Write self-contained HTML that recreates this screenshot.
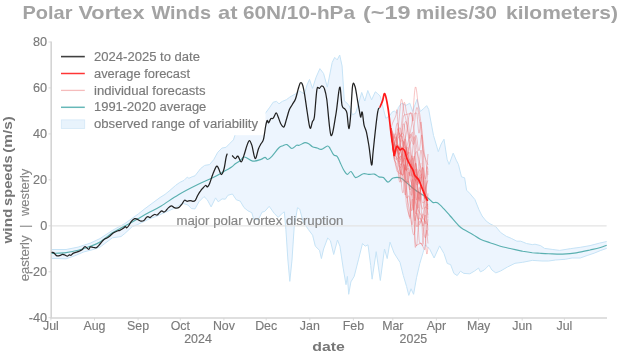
<!DOCTYPE html>
<html><head><meta charset="utf-8"><style>
html,body{margin:0;padding:0;background:#fff;width:620px;height:364px;overflow:hidden}
svg text{font-family:"Liberation Sans",sans-serif}
</style></head><body>
<svg width="620" height="364" viewBox="0 0 620 364" style="position:absolute;left:0;top:0;will-change:transform"><polygon points="51.0,249.5 66.0,249.5 78.2,247.1 90.3,243.1 100.0,238.6 112.4,230.4 124.8,223.6 138.2,214.0 145.0,208.6 160.0,197.5 165.0,194.4 170.0,190.3 175.7,185.3 179.8,182.4 184.0,180.4 187.3,177.1 188.9,178.3 192.2,176.7 195.0,175.8 200.5,168.7 204.6,165.4 209.5,164.6 213.7,159.7 217.8,152.2 221.9,148.1 226.0,147.3 230.1,143.2 233.4,139.9 235.1,134.9 240.0,128.0 250.0,122.0 263.0,116.5 265.0,113.7 269.9,107.1 273.2,102.2 276.5,101.4 279.0,103.8 282.3,101.4 286.4,99.7 289.7,97.2 293.8,94.8 297.1,93.1 299.6,91.0 302.0,92.5 304.5,94.0 307.0,85.0 309.5,79.4 312.5,88.4 316.1,77.2 319.9,68.6 323.6,73.5 327.3,87.1 332.2,62.4 334.7,57.4 337.2,59.9 339.7,55.0 342.1,66.0 344.3,101.0 346.8,102.9 349.3,106.0 352.4,114.7 355.5,113.4 358.6,103.5 361.7,92.4 364.8,101.0 367.8,90.5 371.6,99.8 375.3,91.8 377.7,93.6 380.2,96.1 385.8,118.4 389.5,115.9 392.0,112.2 394.5,110.9 396.9,113.4 398.3,107.6 401.6,103.2 406.0,105.4 409.8,103.2 412.6,111.4 417.0,99.3 420.3,111.4 423.6,108.7 426.7,105.6 428.7,109.4 430.6,120.0 433.5,135.4 438.3,151.7 441.2,144.0 444.0,139.2 447.1,159.3 449.1,164.4 453.2,153.1 456.3,160.3 458.4,164.4 461.5,176.8 464.6,177.8 466.6,190.2 469.7,193.3 474.9,199.5 479.0,209.8 482.1,216.0 486.2,221.1 490.0,223.8 495.8,226.7 500.6,232.5 506.3,236.3 511.2,238.3 516.9,241.2 520.8,241.2 526.5,243.5 532.3,244.6 535.0,244.2 540.5,245.6 544.6,248.4 552.9,249.5 559.7,250.4 570.7,248.6 580.3,247.3 590.0,245.6 599.6,243.1 606.7,241.5 606.7,248.4 600.9,250.4 594.1,253.2 587.2,255.5 580.3,258.0 572.1,258.0 565.2,259.3 555.6,260.0 548.7,261.0 541.9,261.0 532.3,260.4 522.7,262.3 515.0,263.3 507.3,267.1 500.6,271.0 495.8,272.9 491.9,270.0 489.0,265.2 484.2,270.0 480.4,271.9 478.5,268.1 474.6,271.0 469.8,273.8 463.8,273.4 460.5,271.2 457.2,275.6 453.9,273.4 450.6,264.6 447.3,263.5 444.0,253.6 439.6,245.9 434.1,258.0 429.7,249.2 425.3,244.8 423.1,252.5 419.8,263.5 416.5,277.8 413.6,294.3 411.0,288.8 408.8,295.4 406.6,286.6 403.3,275.6 400.0,262.4 394.1,253.1 390.0,242.1 387.2,258.6 384.5,249.0 380.3,280.5 376.2,251.7 372.1,279.2 370.7,265.4 368.0,244.8 365.2,246.2 362.5,243.5 358.4,259.9 354.2,276.4 350.9,281.9 348.7,294.3 347.4,276.4 346.0,284.7 343.2,268.2 339.9,246.2 337.5,240.0 333.7,254.5 330.4,240.7 327.7,238.0 323.6,249.0 321.4,258.6 319.5,250.3 315.3,246.2 312.6,235.2 308.5,229.7 303.0,221.5 299.7,209.1 297.5,207.7 294.2,227.0 292.0,260.0 289.8,281.4 287.9,260.0 285.9,229.7 284.3,211.9 282.4,213.2 278.2,217.4 274.1,213.2 269.2,206.3 264.7,211.5 262.1,212.1 258.2,219.8 253.7,219.2 251.8,212.7 247.9,210.8 244.0,207.6 240.2,201.1 236.3,199.8 232.4,194.0 227.9,195.3 225.3,199.2 222.1,198.9 218.2,201.8 215.6,197.9 211.1,206.9 207.3,199.8 204.0,196.6 198.9,201.8 195.0,208.9 191.4,208.6 187.9,205.0 182.5,203.2 173.6,208.6 155.7,216.6 150.0,218.6 137.1,224.8 132.2,226.7 124.8,233.5 121.0,236.6 112.4,237.8 100.0,247.1 91.9,249.9 83.9,251.9 74.2,256.0 66.1,258.8 51.0,258.4" fill="#edf5fe" stroke="none"/><polyline points="51.0,249.5 66.0,249.5 78.2,247.1 90.3,243.1 100.0,238.6 112.4,230.4 124.8,223.6 138.2,214.0 145.0,208.6 160.0,197.5 165.0,194.4 170.0,190.3 175.7,185.3 179.8,182.4 184.0,180.4 187.3,177.1 188.9,178.3 192.2,176.7 195.0,175.8 200.5,168.7 204.6,165.4 209.5,164.6 213.7,159.7 217.8,152.2 221.9,148.1 226.0,147.3 230.1,143.2 233.4,139.9 235.1,134.9 240.0,128.0 250.0,122.0 263.0,116.5 265.0,113.7 269.9,107.1 273.2,102.2 276.5,101.4 279.0,103.8 282.3,101.4 286.4,99.7 289.7,97.2 293.8,94.8 297.1,93.1 299.6,91.0 302.0,92.5 304.5,94.0 307.0,85.0 309.5,79.4 312.5,88.4 316.1,77.2 319.9,68.6 323.6,73.5 327.3,87.1 332.2,62.4 334.7,57.4 337.2,59.9 339.7,55.0 342.1,66.0 344.3,101.0 346.8,102.9 349.3,106.0 352.4,114.7 355.5,113.4 358.6,103.5 361.7,92.4 364.8,101.0 367.8,90.5 371.6,99.8 375.3,91.8 377.7,93.6 380.2,96.1 385.8,118.4 389.5,115.9 392.0,112.2 394.5,110.9 396.9,113.4 398.3,107.6 401.6,103.2 406.0,105.4 409.8,103.2 412.6,111.4 417.0,99.3 420.3,111.4 423.6,108.7 426.7,105.6 428.7,109.4 430.6,120.0 433.5,135.4 438.3,151.7 441.2,144.0 444.0,139.2 447.1,159.3 449.1,164.4 453.2,153.1 456.3,160.3 458.4,164.4 461.5,176.8 464.6,177.8 466.6,190.2 469.7,193.3 474.9,199.5 479.0,209.8 482.1,216.0 486.2,221.1 490.0,223.8 495.8,226.7 500.6,232.5 506.3,236.3 511.2,238.3 516.9,241.2 520.8,241.2 526.5,243.5 532.3,244.6 535.0,244.2 540.5,245.6 544.6,248.4 552.9,249.5 559.7,250.4 570.7,248.6 580.3,247.3 590.0,245.6 599.6,243.1 606.7,241.5" fill="none" stroke="#c6e3f6" stroke-width="1"/><polyline points="51.0,258.4 66.1,258.8 74.2,256.0 83.9,251.9 91.9,249.9 100.0,247.1 112.4,237.8 121.0,236.6 124.8,233.5 132.2,226.7 137.1,224.8 150.0,218.6 155.7,216.6 173.6,208.6 182.5,203.2 187.9,205.0 191.4,208.6 195.0,208.9 198.9,201.8 204.0,196.6 207.3,199.8 211.1,206.9 215.6,197.9 218.2,201.8 222.1,198.9 225.3,199.2 227.9,195.3 232.4,194.0 236.3,199.8 240.2,201.1 244.0,207.6 247.9,210.8 251.8,212.7 253.7,219.2 258.2,219.8 262.1,212.1 264.7,211.5 269.2,206.3 274.1,213.2 278.2,217.4 282.4,213.2 284.3,211.9 285.9,229.7 287.9,260.0 289.8,281.4 292.0,260.0 294.2,227.0 297.5,207.7 299.7,209.1 303.0,221.5 308.5,229.7 312.6,235.2 315.3,246.2 319.5,250.3 321.4,258.6 323.6,249.0 327.7,238.0 330.4,240.7 333.7,254.5 337.5,240.0 339.9,246.2 343.2,268.2 346.0,284.7 347.4,276.4 348.7,294.3 350.9,281.9 354.2,276.4 358.4,259.9 362.5,243.5 365.2,246.2 368.0,244.8 370.7,265.4 372.1,279.2 376.2,251.7 380.3,280.5 384.5,249.0 387.2,258.6 390.0,242.1 394.1,253.1 400.0,262.4 403.3,275.6 406.6,286.6 408.8,295.4 411.0,288.8 413.6,294.3 416.5,277.8 419.8,263.5 423.1,252.5 425.3,244.8 429.7,249.2 434.1,258.0 439.6,245.9 444.0,253.6 447.3,263.5 450.6,264.6 453.9,273.4 457.2,275.6 460.5,271.2 463.8,273.4 469.8,273.8 474.6,271.0 478.5,268.1 480.4,271.9 484.2,270.0 489.0,265.2 491.9,270.0 495.8,272.9 500.6,271.0 507.3,267.1 515.0,263.3 522.7,262.3 532.3,260.4 541.9,261.0 548.7,261.0 555.6,260.0 565.2,259.3 572.1,258.0 580.3,258.0 587.2,255.5 594.1,253.2 600.9,250.4 606.7,248.4" fill="none" stroke="#c6e3f6" stroke-width="1"/><rect x="55" y="40" width="210.5" height="95.2" fill="#fff"/><line x1="51" y1="225.8" x2="606.6" y2="225.8" stroke="#e3e3e3" stroke-width="1.3"/><line x1="51.2" y1="41.5" x2="51.2" y2="318" stroke="#d4d4d4" stroke-width="1.6"/><line x1="50.4" y1="318" x2="607" y2="318" stroke="#d4d4d4" stroke-width="1.6"/><line x1="48.5" y1="42.0" x2="51" y2="42.0" stroke="#d4d4d4" stroke-width="0.8"/><line x1="48.5" y1="87.9" x2="51" y2="87.9" stroke="#d4d4d4" stroke-width="0.8"/><line x1="48.5" y1="133.9" x2="51" y2="133.9" stroke="#d4d4d4" stroke-width="0.8"/><line x1="48.5" y1="179.8" x2="51" y2="179.8" stroke="#d4d4d4" stroke-width="0.8"/><line x1="48.5" y1="225.8" x2="51" y2="225.8" stroke="#d4d4d4" stroke-width="0.8"/><line x1="48.5" y1="271.8" x2="51" y2="271.8" stroke="#d4d4d4" stroke-width="0.8"/><line x1="48.5" y1="317.7" x2="51" y2="317.7" stroke="#d4d4d4" stroke-width="0.8"/><line x1="50.9" y1="318" x2="50.9" y2="320.5" stroke="#d4d4d4" stroke-width="0.8"/><line x1="94.5" y1="318" x2="94.5" y2="320.5" stroke="#d4d4d4" stroke-width="0.8"/><line x1="138.1" y1="318" x2="138.1" y2="320.5" stroke="#d4d4d4" stroke-width="0.8"/><line x1="180.3" y1="318" x2="180.3" y2="320.5" stroke="#d4d4d4" stroke-width="0.8"/><line x1="223.9" y1="318" x2="223.9" y2="320.5" stroke="#d4d4d4" stroke-width="0.8"/><line x1="266.2" y1="318" x2="266.2" y2="320.5" stroke="#d4d4d4" stroke-width="0.8"/><line x1="309.8" y1="318" x2="309.8" y2="320.5" stroke="#d4d4d4" stroke-width="0.8"/><line x1="353.4" y1="318" x2="353.4" y2="320.5" stroke="#d4d4d4" stroke-width="0.8"/><line x1="392.8" y1="318" x2="392.8" y2="320.5" stroke="#d4d4d4" stroke-width="0.8"/><line x1="436.4" y1="318" x2="436.4" y2="320.5" stroke="#d4d4d4" stroke-width="0.8"/><line x1="478.6" y1="318" x2="478.6" y2="320.5" stroke="#d4d4d4" stroke-width="0.8"/><line x1="522.2" y1="318" x2="522.2" y2="320.5" stroke="#d4d4d4" stroke-width="0.8"/><line x1="564.4" y1="318" x2="564.4" y2="320.5" stroke="#d4d4d4" stroke-width="0.8"/><text x="176.4" y="224.7" font-size="12.3" fill="#858585" stroke="#858585" stroke-width="0.15" textLength="167" lengthAdjust="spacingAndGlyphs">major polar vortex disruption</text><path d="M51.6,253.5 C54.0,253.3 61.7,253.1 66.1,252.6 C70.5,252.1 74.2,251.4 78.2,250.3 C82.2,249.2 86.7,247.7 90.3,246.3 C93.9,244.9 96.3,244.2 100.0,241.9 C103.7,239.7 108.3,235.5 112.4,232.8 C116.5,230.2 120.7,228.3 124.8,226.0 C128.9,223.7 133.2,221.4 137.1,219.2 C141.0,217.0 144.0,215.2 148.0,213.0 C152.0,210.8 156.1,209.0 161.2,205.9 C166.3,202.8 172.4,198.3 178.5,194.7 C184.6,191.1 191.9,187.4 197.8,184.5 C203.7,181.6 209.4,179.4 213.7,177.3 C218.0,175.2 220.4,173.5 223.4,171.8 C226.4,170.1 229.6,168.4 231.6,167.0 C233.6,165.6 234.3,164.5 235.7,163.5 C237.1,162.5 238.5,161.9 240.0,160.8 C241.5,159.7 242.4,156.9 244.5,157.0 C246.6,157.1 249.9,160.7 252.7,161.1 C255.4,161.5 258.9,160.0 261.0,159.4 C263.1,158.8 263.9,157.3 265.0,157.3 C266.1,157.3 266.6,159.7 267.7,159.5 C268.8,159.3 270.1,158.2 271.9,156.3 C273.7,154.4 276.9,149.8 278.7,148.0 C280.5,146.2 281.5,146.3 282.9,145.7 C284.3,145.1 285.5,144.1 287.0,144.6 C288.5,145.1 290.2,148.4 291.8,148.5 C293.4,148.6 295.4,145.8 296.6,145.3 C297.9,144.8 297.9,145.8 299.3,145.3 C300.7,144.9 303.2,142.8 304.8,142.6 C306.4,142.4 307.7,143.2 309.0,143.9 C310.3,144.6 311.0,146.0 312.4,146.7 C313.8,147.4 315.7,147.6 317.2,148.0 C318.7,148.4 319.6,149.7 321.3,149.4 C323.0,149.1 326.0,146.1 327.5,146.0 C329.0,145.9 329.2,147.2 330.2,148.7 C331.2,150.2 332.5,153.6 333.7,154.9 C334.9,156.2 336.0,155.0 337.1,156.3 C338.2,157.6 339.1,160.3 340.2,162.7 C341.3,165.1 342.8,168.6 344.0,170.5 C345.2,172.4 346.1,174.2 347.3,174.4 C348.5,174.6 349.7,171.0 351.1,171.5 C352.5,172.0 353.6,177.2 355.6,177.6 C357.7,178.0 361.2,174.2 363.4,173.7 C365.5,173.2 366.7,174.3 368.5,174.4 C370.3,174.5 372.7,173.7 374.4,174.1 C376.1,174.5 377.4,176.3 378.9,176.9 C380.4,177.5 381.9,176.7 383.4,177.6 C384.9,178.5 386.3,182.0 387.9,182.1 C389.5,182.2 391.0,178.7 393.1,178.0 C395.2,177.3 398.4,177.1 400.8,178.0 C403.2,178.9 404.9,181.4 407.3,183.4 C409.7,185.4 412.9,188.2 415.0,189.8 C417.1,191.5 417.9,192.0 420.0,193.3 C422.1,194.6 425.5,196.3 427.6,197.8 C429.7,199.3 431.2,201.6 432.8,202.4 C434.4,203.2 435.5,201.7 437.4,202.8 C439.3,203.9 442.1,207.0 444.2,209.2 C446.3,211.4 447.8,213.3 450.2,216.0 C452.6,218.7 456.2,223.2 458.5,225.5 C460.8,227.8 461.4,228.1 463.8,229.6 C466.2,231.1 469.9,232.8 472.7,234.4 C475.5,236.0 477.5,237.8 480.4,239.2 C483.3,240.6 486.8,241.6 490.0,242.7 C493.2,243.8 496.1,245.0 499.6,246.0 C503.1,247.0 507.3,247.9 511.2,248.8 C515.0,249.7 519.2,250.5 522.7,251.2 C526.2,251.8 529.4,252.3 532.3,252.7 C535.2,253.0 537.3,253.1 540.0,253.3 C542.7,253.5 545.0,253.7 548.7,253.8 C552.5,253.9 557.9,254.2 562.5,254.1 C567.1,253.9 571.6,253.6 576.2,252.9 C580.8,252.2 586.1,250.9 590.0,250.0 C593.9,249.1 596.8,248.5 599.6,247.7 C602.4,246.9 605.5,245.7 606.7,245.3" fill="none" stroke="#5ab0b0" stroke-width="1.15" stroke-linejoin="round"/><path d="M391.0,128.0 C391.2,129.7 391.7,134.7 392.0,138.0 C392.3,141.3 392.7,144.7 393.0,147.7 C393.3,150.7 393.7,154.0 394.0,156.0 C394.3,158.1 394.7,158.6 395.0,160.1 C395.3,161.6 395.7,163.7 396.0,165.1 C396.3,166.5 396.7,167.5 397.0,168.3 C397.3,169.1 397.7,169.3 398.0,170.0 C398.3,170.8 398.7,172.2 399.0,172.8 C399.3,173.4 399.7,174.5 400.0,173.7 C400.3,173.0 400.7,171.2 401.0,168.4 C401.3,165.5 401.7,160.0 402.0,156.7 C402.3,153.3 402.7,149.3 403.0,148.2 C403.3,147.0 403.7,147.9 404.0,149.9 C404.3,151.9 404.7,157.1 405.0,160.3 C405.3,163.6 405.7,167.8 406.0,169.4 C406.3,171.1 406.7,170.7 407.0,170.4 C407.3,170.1 407.7,167.9 408.0,167.8 C408.3,167.7 408.7,168.4 409.0,169.9 C409.3,171.4 409.7,174.9 410.0,176.9 C410.3,178.9 410.7,180.9 411.0,182.0 C411.3,183.0 411.7,182.1 412.0,183.4 C412.3,184.7 412.7,185.5 413.0,190.0 C413.3,194.5 413.7,202.5 414.0,210.5 C414.3,218.5 414.7,232.2 415.0,238.0 C415.3,243.9 415.7,244.6 416.0,245.5 C416.3,246.4 416.7,246.1 417.0,243.4 C417.3,240.8 417.7,233.3 418.0,229.7 C418.3,226.2 418.7,223.3 419.0,222.1 C419.3,220.8 419.7,222.4 420.0,222.3 C420.3,222.1 420.7,222.3 421.0,221.4 C421.3,220.6 421.7,218.4 422.0,217.2 C422.3,215.9 422.7,213.7 423.0,213.7 C423.3,213.6 423.7,215.3 424.0,217.0 C424.3,218.6 424.7,222.4 425.0,223.3 C425.3,224.2 425.7,224.4 426.0,222.2 C426.3,220.0 426.7,215.0 427.0,210.2 C427.3,205.4 427.8,196.2 428.0,193.4" fill="none" stroke="#ec5a5a" stroke-opacity="0.42" stroke-width="0.85"/><path d="M391.0,128.0 C391.2,129.7 391.7,134.7 392.0,138.0 C392.3,141.3 392.7,145.5 393.0,147.6 C393.3,149.6 393.7,151.5 394.0,150.2 C394.3,148.9 394.7,142.0 395.0,139.8 C395.3,137.5 395.7,136.3 396.0,136.7 C396.3,137.0 396.7,139.2 397.0,141.7 C397.3,144.2 397.7,148.3 398.0,151.4 C398.3,154.5 398.7,158.4 399.0,160.1 C399.3,161.9 399.7,162.4 400.0,162.0 C400.3,161.6 400.7,159.0 401.0,157.7 C401.3,156.3 401.7,153.8 402.0,153.9 C402.3,153.9 402.7,155.2 403.0,157.8 C403.3,160.5 403.7,165.3 404.0,169.8 C404.3,174.3 404.7,180.5 405.0,184.8 C405.3,189.0 405.7,193.1 406.0,195.3 C406.3,197.5 406.7,198.0 407.0,198.1 C407.3,198.3 407.7,196.7 408.0,196.4 C408.3,196.1 408.7,195.3 409.0,196.2 C409.3,197.0 409.7,199.4 410.0,201.5 C410.3,203.6 410.7,207.3 411.0,208.7 C411.3,210.2 411.7,211.6 412.0,210.2 C412.3,208.9 412.7,205.1 413.0,200.4 C413.3,195.7 413.7,187.7 414.0,182.2 C414.3,176.6 414.7,170.1 415.0,167.0 C415.3,164.0 415.7,162.5 416.0,163.8 C416.3,165.1 416.7,170.2 417.0,175.0 C417.3,179.7 417.7,187.8 418.0,192.1 C418.3,196.5 418.7,200.5 419.0,201.2 C419.3,202.0 419.7,199.7 420.0,196.5 C420.3,193.4 420.7,186.9 421.0,182.2 C421.3,177.5 421.7,170.0 422.0,168.3 C422.3,166.5 422.7,167.0 423.0,171.6 C423.3,176.2 423.7,187.3 424.0,196.1 C424.3,204.9 424.7,215.9 425.0,224.4 C425.3,232.9 425.7,242.2 426.0,247.2 C426.3,252.2 426.7,254.2 427.0,254.1 C427.3,254.1 427.8,248.3 428.0,247.1" fill="none" stroke="#ec5a5a" stroke-opacity="0.42" stroke-width="0.85"/><path d="M391.0,128.0 C391.2,129.7 391.7,134.7 392.0,138.0 C392.3,141.3 392.7,144.8 393.0,147.6 C393.3,150.5 393.7,154.0 394.0,155.0 C394.3,156.0 394.7,155.0 395.0,153.6 C395.3,152.2 395.7,148.9 396.0,146.7 C396.3,144.5 396.7,142.1 397.0,140.6 C397.3,139.2 397.7,138.5 398.0,137.9 C398.3,137.2 398.7,137.1 399.0,136.8 C399.3,136.5 399.7,136.5 400.0,136.1 C400.3,135.7 400.7,134.8 401.0,134.3 C401.3,133.9 401.7,133.3 402.0,133.2 C402.3,133.1 402.7,133.2 403.0,133.7 C403.3,134.2 403.7,135.0 404.0,136.4 C404.3,137.8 404.7,139.5 405.0,141.9 C405.3,144.2 405.7,147.5 406.0,150.5 C406.3,153.4 406.7,157.0 407.0,159.4 C407.3,161.8 407.7,163.8 408.0,165.0 C408.3,166.2 408.7,166.5 409.0,166.5 C409.3,166.5 409.7,165.5 410.0,165.0 C410.3,164.6 410.7,163.6 411.0,163.7 C411.3,163.9 411.7,164.2 412.0,166.0 C412.3,167.9 412.7,170.7 413.0,174.9 C413.3,179.1 413.7,185.4 414.0,191.4 C414.3,197.3 414.7,205.4 415.0,210.6 C415.3,215.8 415.7,220.1 416.0,222.8 C416.3,225.5 416.7,226.9 417.0,226.9 C417.3,226.9 417.7,225.1 418.0,222.8 C418.3,220.5 418.7,216.5 419.0,213.3 C419.3,210.0 419.7,206.3 420.0,203.4 C420.3,200.6 420.7,198.0 421.0,196.3 C421.3,194.6 421.7,193.8 422.0,193.2 C422.3,192.6 422.7,192.8 423.0,192.6 C423.3,192.5 423.7,192.8 424.0,192.4 C424.3,192.0 424.7,191.2 425.0,190.3 C425.3,189.3 425.7,187.8 426.0,186.6 C426.3,185.4 426.7,183.9 427.0,182.9 C427.3,181.9 427.8,181.0 428.0,180.6" fill="none" stroke="#ec5a5a" stroke-opacity="0.42" stroke-width="0.85"/><path d="M391.0,128.0 C391.2,129.6 391.7,134.4 392.0,137.7 C392.3,141.0 392.7,144.9 393.0,148.0 C393.3,151.0 393.7,155.0 394.0,156.0 C394.3,157.0 394.7,155.5 395.0,153.9 C395.3,152.3 395.7,147.9 396.0,146.3 C396.3,144.7 396.7,143.7 397.0,144.5 C397.3,145.3 397.7,148.1 398.0,151.2 C398.3,154.2 398.7,159.3 399.0,162.8 C399.3,166.3 399.7,170.1 400.0,172.1 C400.3,174.0 400.7,174.8 401.0,174.6 C401.3,174.3 401.7,172.0 402.0,170.4 C402.3,168.8 402.7,165.8 403.0,165.0 C403.3,164.2 403.7,163.7 404.0,165.9 C404.3,168.0 404.7,172.5 405.0,178.2 C405.3,183.8 405.7,194.7 406.0,199.6 C406.3,204.4 406.7,205.5 407.0,207.4 C407.3,209.3 407.7,209.9 408.0,211.2 C408.3,212.5 408.7,214.3 409.0,215.0 C409.3,215.7 409.7,218.5 410.0,215.3 C410.3,212.0 410.7,201.3 411.0,195.6 C411.3,190.0 411.7,184.1 412.0,181.6 C412.3,179.2 412.7,178.9 413.0,180.8 C413.3,182.7 413.7,188.2 414.0,192.9 C414.3,197.5 414.7,205.1 415.0,208.6 C415.3,212.1 415.7,214.0 416.0,214.0 C416.3,214.0 416.7,211.4 417.0,208.5 C417.3,205.6 417.7,200.2 418.0,196.8 C418.3,193.3 418.7,188.9 419.0,187.9 C419.3,186.8 419.7,187.7 420.0,190.3 C420.3,193.0 420.7,198.2 421.0,203.8 C421.3,209.5 421.7,217.6 422.0,224.3 C422.3,231.0 422.8,240.7 423.0,243.9" fill="none" stroke="#ec5a5a" stroke-opacity="0.42" stroke-width="0.85"/><path d="M391.0,128.0 C391.2,129.7 391.7,135.3 392.0,138.0 C392.3,140.7 392.7,141.9 393.0,144.5 C393.3,147.1 393.7,151.9 394.0,153.5 C394.3,155.0 394.7,154.0 395.0,153.7 C395.3,153.4 395.7,152.6 396.0,151.9 C396.3,151.2 396.7,150.1 397.0,149.7 C397.3,149.2 397.7,148.7 398.0,149.3 C398.3,150.0 398.7,151.6 399.0,153.8 C399.3,156.0 399.7,159.6 400.0,162.5 C400.3,165.4 400.7,168.9 401.0,171.1 C401.3,173.2 401.7,174.9 402.0,175.3 C402.3,175.7 402.7,174.4 403.0,173.4 C403.3,172.3 403.7,170.0 404.0,169.0 C404.3,168.0 404.7,167.4 405.0,167.5 C405.3,167.7 405.7,169.4 406.0,169.7 C406.3,170.0 406.7,170.8 407.0,169.3 C407.3,167.9 407.7,164.6 408.0,161.1 C408.3,157.5 408.7,152.2 409.0,148.3 C409.3,144.3 409.7,139.6 410.0,137.2 C410.3,134.9 410.7,134.0 411.0,134.2 C411.3,134.5 411.7,137.1 412.0,138.7 C412.3,140.3 412.7,143.0 413.0,143.8 C413.3,144.7 413.7,144.6 414.0,143.7 C414.3,142.8 414.7,139.9 415.0,138.5 C415.3,137.1 415.7,135.1 416.0,135.3 C416.3,135.4 416.7,137.2 417.0,139.2 C417.3,141.2 417.7,145.2 418.0,147.1 C418.3,149.1 418.7,151.0 419.0,150.8 C419.3,150.7 419.7,148.6 420.0,146.4 C420.3,144.2 420.7,139.5 421.0,137.7 C421.3,135.9 421.7,134.1 422.0,135.5 C422.3,136.8 422.7,141.0 423.0,146.0 C423.3,151.0 423.7,159.2 424.0,165.4 C424.3,171.7 424.7,178.7 425.0,183.5 C425.3,188.3 425.7,191.4 426.0,194.3 C426.3,197.2 426.7,198.5 427.0,201.0 C427.3,203.5 427.8,208.0 428.0,209.4" fill="none" stroke="#ec5a5a" stroke-opacity="0.42" stroke-width="0.85"/><path d="M391.0,128.0 C391.2,129.7 391.7,134.8 392.0,138.0 C392.3,141.2 392.7,144.8 393.0,147.4 C393.3,150.0 393.7,153.1 394.0,153.6 C394.3,154.0 394.7,151.3 395.0,150.4 C395.3,149.5 395.7,148.3 396.0,148.2 C396.3,148.2 396.7,148.9 397.0,150.1 C397.3,151.2 397.7,153.7 398.0,155.0 C398.3,156.3 398.7,157.6 399.0,158.0 C399.3,158.4 399.7,157.8 400.0,157.4 C400.3,157.1 400.7,155.6 401.0,156.0 C401.3,156.5 401.7,157.6 402.0,160.4 C402.3,163.1 402.7,168.1 403.0,172.5 C403.3,176.9 403.7,182.8 404.0,186.6 C404.3,190.3 404.7,193.7 405.0,194.7 C405.3,195.7 405.7,194.4 406.0,192.5 C406.3,190.7 406.7,186.5 407.0,183.6 C407.3,180.6 407.7,176.8 408.0,174.9 C408.3,173.0 408.7,172.2 409.0,172.2 C409.3,172.1 409.7,174.1 410.0,174.8 C410.3,175.5 410.7,176.8 411.0,176.2 C411.3,175.6 411.7,173.3 412.0,170.9 C412.3,168.5 412.7,164.2 413.0,161.7 C413.3,159.2 413.7,156.4 414.0,156.1 C414.3,155.7 414.7,157.2 415.0,159.6 C415.3,162.0 415.7,167.0 416.0,170.6 C416.3,174.2 416.7,179.3 417.0,181.2 C417.3,183.0 417.7,183.3 418.0,181.6 C418.3,179.8 418.7,174.6 419.0,170.5 C419.3,166.3 419.7,160.1 420.0,156.6 C420.3,153.2 420.7,149.9 421.0,150.0 C421.3,150.1 421.7,153.1 422.0,157.0 C422.3,161.0 422.7,168.3 423.0,173.7 C423.3,179.1 423.7,185.7 424.0,189.7 C424.3,193.6 424.7,195.6 425.0,197.4 C425.3,199.3 425.7,199.2 426.0,200.7 C426.3,202.2 426.7,203.6 427.0,206.6 C427.3,209.6 427.8,216.5 428.0,218.4" fill="none" stroke="#ec5a5a" stroke-opacity="0.42" stroke-width="0.85"/><path d="M391.0,128.0 C391.2,129.1 391.7,133.3 392.0,134.4 C392.3,135.5 392.7,133.7 393.0,134.6 C393.3,135.6 393.7,137.9 394.0,140.0 C394.3,142.2 394.7,145.9 395.0,147.3 C395.3,148.8 395.7,149.3 396.0,148.8 C396.3,148.2 396.7,146.1 397.0,144.2 C397.3,142.2 397.7,139.1 398.0,137.2 C398.3,135.3 398.7,133.3 399.0,132.9 C399.3,132.5 399.7,134.0 400.0,134.6 C400.3,135.2 400.7,137.1 401.0,136.7 C401.3,136.2 401.7,134.9 402.0,132.0 C402.3,129.1 402.7,122.0 403.0,119.2 C403.3,116.4 403.7,115.9 404.0,115.1 C404.3,114.4 404.7,115.0 405.0,114.9 C405.3,114.8 405.7,114.7 406.0,114.6 C406.3,114.5 406.7,114.4 407.0,114.3 C407.3,114.2 407.7,114.1 408.0,114.0 C408.3,113.9 408.7,113.9 409.0,113.9 C409.3,113.8 409.7,113.8 410.0,113.7 C410.3,113.7 410.7,113.6 411.0,113.6 C411.3,113.5 411.7,112.2 412.0,113.4 C412.3,114.7 412.7,120.8 413.0,121.1 C413.3,121.4 413.7,116.6 414.0,115.2 C414.3,113.8 414.7,113.3 415.0,113.0 C415.3,112.7 415.7,113.3 416.0,113.5 C416.3,113.7 416.7,111.9 417.0,114.0 C417.3,116.1 417.7,122.8 418.0,125.9 C418.3,129.1 418.7,133.0 419.0,133.2 C419.3,133.4 419.7,129.1 420.0,127.3 C420.3,125.4 420.7,120.9 421.0,122.2 C421.3,123.5 421.7,127.9 422.0,135.0 C422.3,142.0 422.7,155.2 423.0,164.6 C423.3,174.1 423.7,186.4 424.0,191.9 C424.3,197.5 424.7,198.6 425.0,198.1 C425.3,197.5 425.7,191.7 426.0,188.8 C426.3,185.8 426.8,181.8 427.0,180.3" fill="none" stroke="#ec5a5a" stroke-opacity="0.42" stroke-width="0.85"/><path d="M391.0,128.0 C391.2,129.7 391.7,134.7 392.0,138.0 C392.3,141.3 392.7,144.7 393.0,148.0 C393.3,151.3 393.7,155.6 394.0,158.0 C394.3,160.4 394.7,160.9 395.0,162.4 C395.3,163.9 395.7,165.3 396.0,166.8 C396.3,168.3 396.7,170.4 397.0,171.2 C397.3,172.0 397.7,171.4 398.0,171.8 C398.3,172.3 398.7,173.0 399.0,174.1 C399.3,175.2 399.7,177.1 400.0,178.4 C400.3,179.7 400.7,181.6 401.0,182.1 C401.3,182.6 401.7,182.4 402.0,181.2 C402.3,180.0 402.7,177.2 403.0,174.8 C403.3,172.5 403.7,168.6 404.0,167.0 C404.3,165.4 404.7,164.0 405.0,165.2 C405.3,166.5 405.7,170.1 406.0,174.5 C406.3,178.9 406.7,185.9 407.0,191.6 C407.3,197.4 407.7,205.1 408.0,209.0 C408.3,212.9 408.7,213.4 409.0,215.0 C409.3,216.6 409.7,219.4 410.0,218.4 C410.3,217.4 410.7,212.1 411.0,209.0 C411.3,205.9 411.7,201.1 412.0,199.9 C412.3,198.7 412.7,198.5 413.0,201.6 C413.3,204.8 413.7,211.5 414.0,218.8 C414.3,226.1 414.7,241.0 415.0,245.5 C415.3,249.9 415.7,245.6 416.0,245.5 C416.3,245.4 416.7,245.2 417.0,245.0 C417.3,244.8 417.7,244.7 418.0,244.5 C418.3,244.3 418.7,244.2 419.0,244.0 C419.3,243.8 419.7,243.7 420.0,243.5 C420.3,243.3 420.7,242.8 421.0,243.0 C421.3,243.2 421.7,244.2 422.0,244.9 C422.3,245.5 422.7,246.1 423.0,246.7 C423.3,247.3 423.7,248.2 424.0,248.6 C424.3,248.9 424.7,251.1 425.0,248.9 C425.3,246.7 425.7,238.7 426.0,235.5 C426.3,232.4 426.7,229.9 427.0,230.0 C427.3,230.0 427.8,234.7 428.0,235.7" fill="none" stroke="#ec5a5a" stroke-opacity="0.42" stroke-width="0.85"/><path d="M391.0,128.0 C391.2,129.7 391.7,135.2 392.0,138.0 C392.3,140.8 392.7,143.4 393.0,144.6 C393.3,145.7 393.7,145.4 394.0,145.0 C394.3,144.6 394.7,143.0 395.0,142.1 C395.3,141.2 395.7,140.3 396.0,139.4 C396.3,138.6 396.7,137.9 397.0,136.9 C397.3,136.0 397.7,134.8 398.0,133.5 C398.3,132.3 398.7,130.4 399.0,129.4 C399.3,128.5 399.7,127.5 400.0,127.7 C400.3,127.9 400.7,128.9 401.0,130.6 C401.3,132.2 401.7,135.3 402.0,137.6 C402.3,139.9 402.7,142.7 403.0,144.4 C403.3,146.0 403.7,146.9 404.0,147.4 C404.3,147.8 404.7,147.0 405.0,147.1 C405.3,147.1 405.7,146.9 406.0,147.6 C406.3,148.4 406.7,149.8 407.0,151.5 C407.3,153.2 407.7,155.9 408.0,157.8 C408.3,159.8 408.7,162.2 409.0,163.1 C409.3,164.1 409.7,164.0 410.0,163.3 C410.3,162.5 410.7,160.0 411.0,158.8 C411.3,157.5 411.7,155.4 412.0,155.7 C412.3,156.0 412.7,157.3 413.0,160.3 C413.3,163.4 413.7,168.9 414.0,174.1 C414.3,179.3 414.7,187.4 415.0,191.6 C415.3,195.9 415.7,198.5 416.0,199.6 C416.3,200.6 416.7,199.1 417.0,198.0 C417.3,196.9 417.7,194.1 418.0,193.0 C418.3,191.9 418.7,191.0 419.0,191.4 C419.3,191.8 419.8,194.6 420.0,195.3" fill="none" stroke="#ec5a5a" stroke-opacity="0.42" stroke-width="0.85"/><path d="M391.0,128.0 C391.2,129.7 391.7,135.8 392.0,138.0 C392.3,140.2 392.7,140.2 393.0,141.3 C393.3,142.3 393.7,143.6 394.0,144.5 C394.3,145.3 394.7,145.8 395.0,146.3 C395.3,146.9 395.7,147.3 396.0,148.0 C396.3,148.6 396.7,149.2 397.0,150.1 C397.3,151.0 397.7,152.7 398.0,153.4 C398.3,154.2 398.7,154.8 399.0,154.8 C399.3,154.8 399.7,154.1 400.0,153.2 C400.3,152.3 400.7,150.3 401.0,149.3 C401.3,148.4 401.7,147.4 402.0,147.6 C402.3,147.9 402.7,148.9 403.0,150.9 C403.3,152.8 403.7,156.0 404.0,159.5 C404.3,162.9 404.7,167.5 405.0,171.7 C405.3,175.9 405.7,180.9 406.0,184.8 C406.3,188.7 406.7,192.3 407.0,195.3 C407.3,198.2 407.7,200.4 408.0,202.4 C408.3,204.5 408.7,205.7 409.0,207.6 C409.3,209.4 409.7,211.4 410.0,213.5 C410.3,215.6 410.7,218.0 411.0,220.3 C411.3,222.6 411.7,225.4 412.0,227.5 C412.3,229.7 412.7,232.1 413.0,233.2 C413.3,234.4 413.7,235.2 414.0,234.6 C414.3,234.1 414.7,233.1 415.0,230.1 C415.3,227.1 415.7,221.1 416.0,216.7 C416.3,212.2 416.7,207.1 417.0,203.4 C417.3,199.7 417.7,196.3 418.0,194.4 C418.3,192.5 418.7,191.6 419.0,192.0 C419.3,192.3 419.7,194.6 420.0,196.5 C420.3,198.3 420.7,201.2 421.0,203.2 C421.3,205.1 421.7,207.6 422.0,208.4 C422.3,209.3 422.7,209.5 423.0,208.4 C423.3,207.3 423.7,204.9 424.0,201.9 C424.3,198.8 424.7,194.5 425.0,190.0 C425.3,185.5 425.7,178.9 426.0,175.0 C426.3,171.1 426.7,167.7 427.0,166.8 C427.3,165.9 427.8,169.3 428.0,169.8" fill="none" stroke="#ec5a5a" stroke-opacity="0.42" stroke-width="0.85"/><path d="M391.0,128.0 C391.2,129.7 391.7,134.8 392.0,138.0 C392.3,141.2 392.7,144.8 393.0,147.4 C393.3,150.0 393.7,153.0 394.0,153.7 C394.3,154.4 394.7,152.6 395.0,151.8 C395.3,151.0 395.7,149.3 396.0,148.9 C396.3,148.6 396.7,148.9 397.0,149.5 C397.3,150.2 397.7,151.9 398.0,152.7 C398.3,153.4 398.7,154.2 399.0,154.1 C399.3,154.0 399.7,153.1 400.0,152.0 C400.3,151.0 400.7,148.6 401.0,147.8 C401.3,147.0 401.7,146.2 402.0,147.1 C402.3,148.0 402.7,150.4 403.0,153.2 C403.3,156.1 403.7,160.7 404.0,164.3 C404.3,167.9 404.7,172.2 405.0,174.9 C405.3,177.7 405.7,179.8 406.0,181.0 C406.3,182.1 406.7,181.8 407.0,181.9 C407.3,181.9 407.7,180.9 408.0,181.1 C408.3,181.4 408.7,181.9 409.0,183.3 C409.3,184.7 409.7,187.5 410.0,189.4 C410.3,191.3 410.7,194.0 411.0,194.8 C411.3,195.5 411.7,195.5 412.0,193.7 C412.3,192.0 412.7,188.0 413.0,184.3 C413.3,180.5 413.7,174.9 414.0,171.5 C414.3,168.1 414.7,165.3 415.0,164.0 C415.3,162.8 415.7,162.9 416.0,164.1 C416.3,165.3 416.7,168.8 417.0,171.4 C417.3,173.9 417.7,177.6 418.0,179.4 C418.3,181.2 418.7,181.9 419.0,182.1 C419.3,182.2 419.7,181.1 420.0,180.2 C420.3,179.3 420.7,177.2 421.0,176.9 C421.3,176.6 421.7,176.9 422.0,178.5 C422.3,180.1 422.7,183.7 423.0,186.6 C423.3,189.4 423.7,193.3 424.0,195.3 C424.3,197.3 424.7,198.8 425.0,198.5 C425.3,198.1 425.7,196.3 426.0,193.3 C426.3,190.4 426.7,184.6 427.0,180.8 C427.3,176.9 427.8,172.2 428.0,170.4" fill="none" stroke="#ec5a5a" stroke-opacity="0.42" stroke-width="0.85"/><path d="M391.0,128.0 C391.2,129.7 391.7,134.7 392.0,138.0 C392.3,141.3 392.7,144.8 393.0,147.7 C393.3,150.6 393.7,154.4 394.0,155.4 C394.3,156.4 394.7,155.9 395.0,153.5 C395.3,151.2 395.7,145.0 396.0,141.3 C396.3,137.6 396.7,133.6 397.0,131.5 C397.3,129.4 397.7,128.4 398.0,128.6 C398.3,128.9 398.7,130.7 399.0,133.1 C399.3,135.5 399.7,139.8 400.0,143.1 C400.3,146.3 400.7,150.0 401.0,152.7 C401.3,155.5 401.7,158.1 402.0,159.6 C402.3,161.1 402.7,161.6 403.0,161.5 C403.3,161.5 403.7,160.1 404.0,159.5 C404.3,158.9 404.7,157.6 405.0,158.0 C405.3,158.4 405.7,159.8 406.0,161.8 C406.3,163.8 406.7,167.1 407.0,170.0 C407.3,172.9 407.7,176.5 408.0,179.3 C408.3,182.1 408.7,185.0 409.0,186.8 C409.3,188.6 409.7,190.0 410.0,190.0 C410.3,190.1 410.7,188.9 411.0,187.1 C411.3,185.3 411.7,182.2 412.0,179.2 C412.3,176.1 412.7,172.0 413.0,169.0 C413.3,166.0 413.7,163.5 414.0,161.2 C414.3,158.9 414.7,156.8 415.0,155.2 C415.3,153.6 415.7,152.1 416.0,151.7 C416.3,151.3 416.7,151.5 417.0,152.7 C417.3,153.8 417.7,155.9 418.0,158.7 C418.3,161.5 418.7,165.2 419.0,169.4 C419.3,173.5 419.7,179.4 420.0,183.6 C420.3,187.8 420.7,191.9 421.0,194.8 C421.3,197.8 421.7,200.1 422.0,201.5 C422.3,202.8 422.7,202.9 423.0,203.0 C423.3,203.0 423.7,201.9 424.0,201.8 C424.3,201.7 424.7,201.3 425.0,202.4 C425.3,203.4 425.7,205.4 426.0,208.2 C426.3,211.0 426.7,215.4 427.0,219.1 C427.3,222.7 427.8,228.3 428.0,230.2" fill="none" stroke="#ec5a5a" stroke-opacity="0.42" stroke-width="0.85"/><path d="M391.0,128.0 C391.2,129.7 391.7,134.7 392.0,138.0 C392.3,141.3 392.7,144.7 393.0,148.0 C393.3,151.3 393.7,155.7 394.0,158.0 C394.3,160.3 394.7,160.8 395.0,161.6 C395.3,162.3 395.7,161.9 396.0,162.4 C396.3,162.9 396.7,163.0 397.0,164.5 C397.3,165.9 397.7,168.6 398.0,171.1 C398.3,173.5 398.7,177.5 399.0,179.4 C399.3,181.2 399.7,182.7 400.0,182.1 C400.3,181.5 400.7,179.3 401.0,175.7 C401.3,172.1 401.7,165.5 402.0,160.6 C402.3,155.6 402.7,149.2 403.0,146.0 C403.3,142.8 403.7,141.1 404.0,141.4 C404.3,141.6 404.7,143.7 405.0,147.3 C405.3,151.0 405.7,158.1 406.0,163.3 C406.3,168.5 406.7,175.1 407.0,178.4 C407.3,181.6 407.7,183.1 408.0,182.9 C408.3,182.7 408.7,179.7 409.0,177.3 C409.3,174.9 409.7,170.5 410.0,168.7 C410.3,166.9 410.7,165.2 411.0,166.4 C411.3,167.6 411.7,171.2 412.0,175.9 C412.3,180.6 412.7,188.3 413.0,194.4 C413.3,200.4 413.7,207.9 414.0,212.3 C414.3,216.6 414.7,220.0 415.0,220.7 C415.3,221.4 415.7,217.6 416.0,216.4 C416.3,215.2 416.7,212.7 417.0,213.4 C417.3,214.1 417.7,216.5 418.0,220.7 C418.3,224.9 418.7,234.9 419.0,238.7 C419.3,242.5 419.7,242.8 420.0,243.5 C420.3,244.2 420.7,242.8 421.0,243.0 C421.3,243.2 421.7,244.7 422.0,244.9 C422.3,245.0 422.7,247.3 423.0,243.9 C423.3,240.5 423.7,229.5 424.0,224.7 C424.3,219.9 424.7,216.0 425.0,215.1 C425.3,214.3 425.7,216.7 426.0,219.7 C426.3,222.6 426.7,228.8 427.0,232.8 C427.3,236.8 427.8,241.7 428.0,243.5" fill="none" stroke="#ec5a5a" stroke-opacity="0.42" stroke-width="0.85"/><path d="M391.0,128.0 C391.2,129.3 391.7,133.4 392.0,135.9 C392.3,138.4 392.7,140.2 393.0,143.2 C393.3,146.1 393.7,151.7 394.0,153.7 C394.3,155.6 394.7,154.5 395.0,154.9 C395.3,155.3 395.7,155.6 396.0,156.1 C396.3,156.6 396.7,157.3 397.0,157.9 C397.3,158.5 397.7,158.9 398.0,159.7 C398.3,160.6 398.7,161.5 399.0,163.1 C399.3,164.8 399.7,166.9 400.0,169.6 C400.3,172.3 400.7,176.0 401.0,179.4 C401.3,182.7 401.7,187.4 402.0,189.6 C402.3,191.8 402.7,193.2 403.0,192.8 C403.3,192.4 403.7,190.9 404.0,187.5 C404.3,184.0 404.7,177.4 405.0,172.1 C405.3,166.8 405.7,159.9 406.0,155.9 C406.3,151.9 406.7,149.2 407.0,148.0 C407.3,146.8 407.7,147.1 408.0,148.6 C408.3,150.1 408.7,154.1 409.0,157.0 C409.3,159.9 409.7,164.3 410.0,166.1 C410.3,167.9 410.7,168.9 411.0,167.7 C411.3,166.5 411.7,162.8 412.0,159.0 C412.3,155.3 412.7,149.1 413.0,145.4 C413.3,141.6 413.7,137.3 414.0,136.7 C414.3,136.0 414.7,137.3 415.0,141.3 C415.3,145.3 415.7,152.9 416.0,160.7 C416.3,168.5 416.7,179.7 417.0,188.2 C417.3,196.7 417.7,206.0 418.0,211.9 C418.3,217.8 418.7,221.4 419.0,223.5 C419.3,225.5 419.7,224.8 420.0,224.3 C420.3,223.9 420.7,221.4 421.0,220.9 C421.3,220.4 421.7,220.3 422.0,221.2 C422.3,222.1 422.7,224.1 423.0,226.2 C423.3,228.2 423.7,231.4 424.0,233.3 C424.3,235.2 424.7,237.3 425.0,237.8 C425.3,238.2 425.7,237.6 426.0,236.1 C426.3,234.6 426.7,231.6 427.0,228.8 C427.3,226.0 427.8,220.7 428.0,219.1" fill="none" stroke="#ec5a5a" stroke-opacity="0.42" stroke-width="0.85"/><path d="M391.0,128.0 C391.2,129.7 391.7,135.8 392.0,138.0 C392.3,140.2 392.7,141.2 393.0,141.1 C393.3,141.0 393.7,138.5 394.0,137.3 C394.3,136.1 394.7,133.9 395.0,133.6 C395.3,133.3 395.7,134.2 396.0,135.4 C396.3,136.6 396.7,138.9 397.0,140.8 C397.3,142.8 397.7,145.5 398.0,146.9 C398.3,148.3 398.7,149.4 399.0,149.2 C399.3,149.0 399.7,147.4 400.0,145.6 C400.3,143.9 400.7,140.3 401.0,138.7 C401.3,137.1 401.7,135.7 402.0,136.0 C402.3,136.2 402.7,138.0 403.0,140.2 C403.3,142.4 403.7,145.7 404.0,149.0 C404.3,152.4 404.7,157.1 405.0,160.2 C405.3,163.3 405.7,166.0 406.0,167.8 C406.3,169.5 406.7,169.7 407.0,170.7 C407.3,171.7 407.7,171.6 408.0,173.6 C408.3,175.6 408.7,178.5 409.0,182.8 C409.3,187.1 409.7,193.7 410.0,199.4 C410.3,205.0 410.7,212.4 411.0,216.6 C411.3,220.8 411.7,224.5 412.0,224.8 C412.3,225.0 412.7,222.1 413.0,218.0 C413.3,213.9 413.7,206.0 414.0,200.2 C414.3,194.3 414.7,186.9 415.0,182.9 C415.3,178.9 415.7,176.1 416.0,176.1 C416.3,176.0 416.7,179.7 417.0,182.8 C417.3,185.8 417.7,191.5 418.0,194.3 C418.3,197.1 418.7,199.5 419.0,199.6 C419.3,199.7 419.7,197.6 420.0,195.0 C420.3,192.3 420.7,187.6 421.0,183.7 C421.3,179.8 421.7,174.1 422.0,171.4 C422.3,168.7 422.7,167.4 423.0,167.6 C423.3,167.8 423.7,170.6 424.0,172.5 C424.3,174.3 424.7,177.8 425.0,178.5 C425.3,179.3 425.7,179.1 426.0,177.1 C426.3,175.0 426.7,170.2 427.0,166.3 C427.3,162.5 427.8,156.1 428.0,154.0" fill="none" stroke="#ec5a5a" stroke-opacity="0.42" stroke-width="0.85"/><path d="M391.0,128.0 C391.2,129.7 391.7,134.8 392.0,138.0 C392.3,141.2 392.7,144.7 393.0,147.5 C393.3,150.2 393.7,153.2 394.0,154.6 C394.3,156.0 394.7,155.6 395.0,156.0 C395.3,156.5 395.7,156.9 396.0,157.3 C396.3,157.8 396.7,158.8 397.0,159.0 C397.3,159.2 397.7,159.2 398.0,158.6 C398.3,157.9 398.7,156.6 399.0,155.1 C399.3,153.6 399.7,151.4 400.0,149.4 C400.3,147.5 400.7,144.8 401.0,143.2 C401.3,141.7 401.7,140.6 402.0,140.2 C402.3,139.8 402.7,140.3 403.0,140.9 C403.3,141.4 403.7,142.6 404.0,143.5 C404.3,144.5 404.7,145.6 405.0,146.7 C405.3,147.9 405.7,149.3 406.0,150.4 C406.3,151.5 406.7,152.5 407.0,153.4 C407.3,154.3 407.7,154.7 408.0,155.8 C408.3,156.9 408.7,158.3 409.0,160.0 C409.3,161.7 409.7,164.0 410.0,166.1 C410.3,168.2 410.7,170.9 411.0,172.6 C411.3,174.3 411.7,175.8 412.0,176.3 C412.3,176.8 412.7,176.3 413.0,175.7 C413.3,175.0 413.7,173.3 414.0,172.3 C414.3,171.4 414.7,170.1 415.0,169.8 C415.3,169.6 415.7,169.2 416.0,170.6 C416.3,172.1 416.7,174.8 417.0,178.4 C417.3,182.0 417.7,187.5 418.0,192.2 C418.3,196.9 418.7,202.4 419.0,206.6 C419.3,210.8 419.7,214.9 420.0,217.3 C420.3,219.6 420.7,220.4 421.0,220.7 C421.3,221.0 421.7,220.3 422.0,219.2 C422.3,218.2 422.7,216.0 423.0,214.4 C423.3,212.7 423.7,210.7 424.0,209.5 C424.3,208.3 424.7,207.5 425.0,207.1 C425.3,206.7 425.7,207.1 426.0,207.3 C426.3,207.6 426.7,208.4 427.0,208.5 C427.3,208.7 427.8,208.1 428.0,208.1" fill="none" stroke="#ec5a5a" stroke-opacity="0.42" stroke-width="0.85"/><path d="M391.0,128.0 C391.2,129.7 391.7,134.7 392.0,138.0 C392.3,141.3 392.7,144.6 393.0,147.6 C393.3,150.7 393.7,154.3 394.0,156.1 C394.3,157.9 394.7,158.0 395.0,158.5 C395.3,159.1 395.7,159.1 396.0,159.3 C396.3,159.5 396.7,159.3 397.0,159.6 C397.3,159.9 397.7,160.4 398.0,161.2 C398.3,162.0 398.7,163.5 399.0,164.5 C399.3,165.6 399.7,167.0 400.0,167.4 C400.3,167.8 400.7,167.9 401.0,166.9 C401.3,165.8 401.7,163.8 402.0,161.2 C402.3,158.6 402.7,154.3 403.0,151.2 C403.3,148.2 403.7,144.9 404.0,142.9 C404.3,140.9 404.7,139.1 405.0,139.1 C405.3,139.1 405.7,140.5 406.0,142.9 C406.3,145.3 406.7,149.6 407.0,153.5 C407.3,157.3 407.7,162.4 408.0,165.9 C408.3,169.4 408.7,172.9 409.0,174.4 C409.3,175.9 409.7,176.1 410.0,175.0 C410.3,173.9 410.7,170.5 411.0,168.1 C411.3,165.6 411.7,162.0 412.0,160.4 C412.3,158.8 412.7,157.5 413.0,158.6 C413.3,159.7 413.7,162.6 414.0,166.9 C414.3,171.3 414.7,178.6 415.0,184.6 C415.3,190.6 415.7,197.7 416.0,202.7 C416.3,207.8 416.7,212.2 417.0,214.9 C417.3,217.7 417.7,218.7 418.0,219.3 C418.3,219.9 418.7,218.8 419.0,218.5 C419.3,218.3 419.7,217.7 420.0,217.9 C420.3,218.0 420.7,218.5 421.0,219.4 C421.3,220.4 421.7,222.5 422.0,223.6 C422.3,224.6 422.7,225.8 423.0,225.8 C423.3,225.7 423.7,224.8 424.0,223.1 C424.3,221.5 424.7,218.5 425.0,216.0 C425.3,213.4 425.7,210.0 426.0,208.0 C426.3,206.0 426.7,204.5 427.0,204.2 C427.3,203.9 427.8,206.0 428.0,206.4" fill="none" stroke="#ec5a5a" stroke-opacity="0.42" stroke-width="0.85"/><path d="M391.0,128.0 C391.2,128.4 391.7,129.6 392.0,130.7 C392.3,131.7 392.7,132.8 393.0,134.1 C393.3,135.5 393.7,138.4 394.0,138.7 C394.3,138.9 394.7,137.2 395.0,135.4 C395.3,133.6 395.7,130.0 396.0,127.9 C396.3,125.9 396.7,123.7 397.0,123.2 C397.3,122.6 397.7,123.2 398.0,124.7 C398.3,126.2 398.7,129.7 399.0,132.4 C399.3,135.0 399.7,139.1 400.0,140.5 C400.3,141.8 400.7,141.7 401.0,140.5 C401.3,139.4 401.7,135.9 402.0,133.4 C402.3,130.9 402.7,127.2 403.0,125.6 C403.3,124.1 403.7,123.1 404.0,124.1 C404.3,125.1 404.7,128.2 405.0,131.5 C405.3,134.9 405.7,140.6 406.0,144.3 C406.3,148.0 406.7,152.0 407.0,153.7 C407.3,155.3 407.7,154.5 408.0,154.2 C408.3,154.0 408.7,151.6 409.0,152.0 C409.3,152.4 409.7,153.3 410.0,156.9 C410.3,160.5 410.7,167.0 411.0,173.5 C411.3,180.1 411.7,190.2 412.0,196.3 C412.3,202.3 412.7,208.3 413.0,209.7 C413.3,211.2 413.7,208.6 414.0,204.8 C414.3,201.0 414.7,192.3 415.0,186.7 C415.3,181.0 415.7,173.7 416.0,170.8 C416.3,167.9 416.7,168.2 417.0,169.5 C417.3,170.7 417.7,175.7 418.0,178.0 C418.3,180.4 418.7,183.6 419.0,183.7 C419.3,183.7 419.7,181.8 420.0,178.3 C420.3,174.9 420.8,165.5 421.0,162.9" fill="none" stroke="#ec5a5a" stroke-opacity="0.42" stroke-width="0.85"/><path d="M391.0,128.0 C391.2,129.7 391.7,134.8 392.0,138.0 C392.3,141.2 392.7,144.4 393.0,147.0 C393.3,149.6 393.7,152.8 394.0,153.6 C394.3,154.3 394.7,152.4 395.0,151.4 C395.3,150.3 395.7,148.1 396.0,147.3 C396.3,146.4 396.7,146.1 397.0,146.6 C397.3,147.1 397.7,148.7 398.0,150.3 C398.3,151.8 398.7,154.5 399.0,156.1 C399.3,157.7 399.7,159.5 400.0,159.8 C400.3,160.0 400.7,159.4 401.0,157.6 C401.3,155.8 401.7,152.1 402.0,149.0 C402.3,145.9 402.7,142.4 403.0,139.2 C403.3,135.9 403.7,132.1 404.0,129.4 C404.3,126.7 404.7,124.1 405.0,122.8 C405.3,121.5 405.7,121.0 406.0,121.5 C406.3,121.9 406.7,123.7 407.0,125.4 C407.3,127.2 407.7,129.9 408.0,131.9 C408.3,133.8 408.7,136.0 409.0,137.1 C409.3,138.2 409.7,138.6 410.0,138.3 C410.3,138.0 410.7,136.6 411.0,135.6 C411.3,134.6 411.7,132.7 412.0,132.5 C412.3,132.2 412.7,132.0 413.0,134.0 C413.3,135.9 413.7,139.3 414.0,144.1 C414.3,148.8 414.7,156.0 415.0,162.7 C415.3,169.4 415.7,177.8 416.0,184.4 C416.3,190.9 416.7,197.9 417.0,201.8 C417.3,205.8 417.7,208.0 418.0,208.2 C418.3,208.3 418.7,205.7 419.0,202.9 C419.3,200.2 419.7,195.5 420.0,191.7 C420.3,187.8 420.8,181.8 421.0,179.8" fill="none" stroke="#ec5a5a" stroke-opacity="0.42" stroke-width="0.85"/><path d="M391.0,128.0 C391.8,131.7 394.3,143.8 396.0,150.0 C397.7,156.2 399.3,165.0 401.0,165.0 C402.7,165.0 404.2,156.8 406.0,150.0 C407.8,143.2 410.2,134.4 411.8,124.0 C413.4,113.5 414.2,90.3 415.3,87.3 C416.4,84.3 417.4,99.9 418.4,106.0 C419.4,112.1 420.2,116.7 421.1,124.0 C422.0,131.3 422.9,141.5 424.0,150.0 C425.1,158.5 427.3,170.8 428.0,175.0" fill="none" stroke="#ec5a5a" stroke-opacity="0.42" stroke-width="0.85"/><path d="M391.0,128.0 C391.7,131.7 393.7,150.7 395.0,150.0 C396.3,149.3 397.6,132.4 398.6,124.0 C399.7,115.6 400.4,101.3 401.3,99.4 C402.2,97.5 403.2,108.5 404.1,112.6 C405.0,116.7 405.8,117.8 406.8,124.0 C407.8,130.2 408.6,140.7 410.0,150.0 C411.4,159.3 413.3,176.7 415.0,180.0 C416.7,183.3 418.5,167.5 420.0,170.0 C421.5,172.5 422.7,189.2 424.0,195.0 C425.3,200.8 427.3,203.3 428.0,205.0" fill="none" stroke="#ec5a5a" stroke-opacity="0.42" stroke-width="0.85"/><path d="M391.0,128.0 C391.7,130.8 393.7,141.3 395.0,145.0 C396.3,148.7 397.9,153.5 399.0,150.0 C400.1,146.5 400.6,131.9 401.5,124.0 C402.4,116.1 403.3,104.8 404.1,102.7 C404.9,100.6 405.6,108.0 406.3,111.5 C407.0,115.0 407.6,115.9 408.5,124.0 C409.4,132.1 410.6,149.8 412.0,160.0 C413.4,170.2 415.3,182.5 417.0,185.0 C418.7,187.5 420.2,170.0 422.0,175.0 C423.8,180.0 427.0,208.3 428.0,215.0" fill="none" stroke="#ec5a5a" stroke-opacity="0.42" stroke-width="0.85"/><path d="M391.0,128.0 C391.3,127.0 392.2,124.0 393.0,122.0 C393.8,120.0 395.1,118.0 395.8,116.0 C396.5,114.0 396.6,108.5 397.0,109.8 C397.4,111.1 397.3,117.3 398.0,124.0 C398.7,130.7 399.8,142.3 401.0,150.0 C402.2,157.7 403.5,168.3 405.0,170.0 C406.5,171.7 408.3,155.0 410.0,160.0 C411.7,165.0 413.2,190.8 415.0,200.0 C416.8,209.2 418.8,210.8 421.0,215.0 C423.2,219.2 426.8,223.3 428.0,225.0" fill="none" stroke="#ec5a5a" stroke-opacity="0.42" stroke-width="0.85"/><path d="M391.0,128.0 C392.0,133.3 395.0,152.2 397.0,160.0 C399.0,167.8 401.2,176.7 403.0,175.0 C404.8,173.3 406.3,156.7 408.0,150.0 C409.7,143.3 411.6,142.1 413.0,135.0 C414.4,127.9 415.5,109.4 416.7,107.6 C417.9,105.8 418.9,116.9 420.0,124.0 C421.1,131.1 421.7,143.2 423.0,150.0 C424.3,156.8 427.2,162.5 428.0,165.0" fill="none" stroke="#ec5a5a" stroke-opacity="0.42" stroke-width="0.85"/><path d="M391.0,128.0 C391.8,130.0 394.2,136.3 396.0,140.0 C397.8,143.7 400.3,150.8 402.0,150.0 C403.7,149.2 404.8,140.7 406.0,135.0 C407.2,129.3 408.1,119.5 409.0,115.9 C409.9,112.4 410.4,111.4 411.2,113.7 C412.0,116.0 412.7,122.3 414.0,130.0 C415.3,137.7 417.3,151.7 419.0,160.0 C420.7,168.3 422.5,173.3 424.0,180.0 C425.5,186.7 427.3,196.7 428.0,200.0" fill="none" stroke="#ec5a5a" stroke-opacity="0.42" stroke-width="0.85"/><path d="M51.6,252.3 C51.9,252.4 52.8,252.1 53.6,252.6 C54.4,253.1 55.5,255.1 56.5,255.6 C57.5,256.1 58.7,255.8 59.7,255.6 C60.7,255.4 61.6,254.5 62.5,254.4 C63.4,254.3 64.1,254.7 64.9,255.0 C65.7,255.3 66.5,256.1 67.3,256.1 C68.0,256.1 68.8,255.0 69.4,254.8 C70.0,254.7 70.3,255.5 71.0,255.2 C71.7,254.9 72.3,253.6 73.4,253.1 C74.5,252.6 76.3,252.3 77.4,251.9 C78.5,251.5 79.4,251.1 80.2,250.7 C81.0,250.3 81.5,250.2 82.3,249.5 C83.1,248.8 84.0,246.7 85.1,246.7 C86.2,246.7 87.8,249.4 88.7,249.4 C89.6,249.4 89.5,247.2 90.3,246.9 C91.1,246.6 92.5,247.4 93.5,247.5 C94.5,247.6 95.6,248.0 96.4,247.7 C97.2,247.4 97.8,246.5 98.4,245.9 C99.0,245.3 99.1,245.0 100.0,244.0 C100.9,243.0 102.5,240.7 103.7,239.7 C104.9,238.7 106.4,238.4 107.4,237.8 C108.4,237.2 108.9,236.7 109.9,235.9 C110.9,235.1 112.4,233.6 113.6,232.8 C114.8,232.0 116.3,231.4 117.3,231.0 C118.3,230.6 118.9,230.8 119.8,230.4 C120.7,230.0 122.0,229.1 122.9,228.5 C123.8,227.9 124.8,226.8 125.4,226.7 C126.0,226.6 126.1,228.0 126.6,227.9 C127.1,227.8 127.7,227.1 128.5,226.0 C129.3,224.9 130.6,222.3 131.6,221.1 C132.6,219.9 133.8,218.9 134.7,218.6 C135.6,218.3 136.1,218.8 137.1,219.2 C138.1,219.6 139.7,220.9 140.8,221.1 C141.9,221.3 143.0,221.1 143.9,220.5 C144.8,219.9 145.7,218.1 146.4,217.4 C147.1,216.7 147.4,216.5 148.0,216.5 C148.6,216.5 149.2,217.8 150.0,217.6 C150.8,217.4 151.8,216.0 152.6,215.5 C153.4,215.0 153.8,214.6 154.6,214.5 C155.4,214.4 156.4,215.2 157.2,215.0 C158.0,214.8 158.4,213.7 159.2,213.0 C159.9,212.3 160.9,211.1 161.7,210.9 C162.5,210.7 163.1,212.0 163.8,212.0 C164.5,212.0 165.1,211.6 165.8,210.9 C166.6,210.2 167.4,208.7 168.3,207.9 C169.2,207.1 170.5,206.0 171.4,205.9 C172.3,205.8 173.1,207.0 173.9,207.4 C174.8,207.8 175.6,208.3 176.5,208.2 C177.4,208.1 178.6,207.6 179.5,206.9 C180.4,206.2 181.2,204.9 182.1,203.8 C182.9,202.7 183.8,200.7 184.6,200.3 C185.4,199.9 186.3,201.3 187.2,201.3 C188.1,201.3 189.3,200.5 190.2,200.5 C191.1,200.5 192.0,201.3 192.8,201.3 C193.7,201.3 194.5,201.3 195.3,200.3 C196.1,199.3 197.0,196.7 197.8,195.2 C198.7,193.7 199.6,192.2 200.4,191.1 C201.2,189.9 201.8,189.2 202.7,188.3 C203.5,187.4 204.7,185.7 205.5,185.5 C206.3,185.3 206.9,187.2 207.6,186.9 C208.3,186.6 208.7,185.7 209.6,183.5 C210.5,181.3 211.8,176.7 213.0,173.8 C214.2,170.9 215.6,167.2 216.5,166.3 C217.4,165.4 217.7,167.0 218.5,168.4 C219.3,169.8 220.4,174.4 221.3,174.5 C222.2,174.6 223.2,171.8 224.0,169.0 C224.8,166.2 225.5,160.0 226.1,157.4 C226.7,154.8 227.1,154.2 227.3,153.6" fill="none" stroke="#222" stroke-width="1.25" stroke-linejoin="round"/><path d="M232.1,155.5 C232.7,156.0 234.4,158.5 235.4,158.6 C236.4,158.7 236.9,155.5 237.9,156.1 C238.9,156.7 240.2,161.9 241.2,161.9 C242.2,161.9 242.7,158.8 243.7,156.1 C244.7,153.3 246.1,148.0 247.0,145.4 C247.9,142.8 248.6,140.5 249.4,140.5 C250.2,140.5 250.9,142.4 251.9,145.4 C252.9,148.4 254.1,158.1 255.2,158.6 C256.3,159.1 257.5,151.2 258.5,148.7 C259.5,146.2 260.2,145.3 261.0,143.8 C261.8,142.3 262.6,142.6 263.4,139.7 C264.2,136.8 265.0,129.7 265.6,126.5 C266.2,123.3 266.7,121.1 267.2,120.5 C267.7,119.9 268.0,123.1 268.6,122.8 C269.2,122.5 270.0,119.5 270.8,118.7 C271.6,117.9 272.3,119.2 273.2,118.2 C274.1,117.2 275.4,113.1 276.2,112.9 C277.0,112.7 277.4,115.2 278.2,117.0 C278.9,118.8 279.8,121.9 280.7,123.6 C281.6,125.2 282.9,127.6 283.9,126.9 C284.8,126.2 285.5,122.4 286.4,119.5 C287.3,116.6 288.4,112.1 289.4,109.6 C290.4,107.1 291.2,106.5 292.2,104.7 C293.2,102.9 294.5,101.4 295.5,98.9 C296.5,96.4 297.2,92.5 298.0,89.8 C298.8,87.1 299.6,83.7 300.4,82.9 C301.2,82.1 301.9,83.1 302.6,84.9 C303.3,86.7 303.7,89.4 304.5,93.9 C305.3,98.4 306.3,106.3 307.2,112.0 C308.1,117.7 309.1,126.4 310.0,128.0 C310.9,129.6 311.7,123.7 312.4,121.8 C313.1,119.9 313.6,122.2 314.4,116.8 C315.1,111.4 316.1,94.3 316.9,89.6 C317.7,84.9 318.6,89.0 319.4,88.4 C320.2,87.8 321.0,85.9 321.8,85.9 C322.6,85.9 323.5,86.1 324.3,88.4 C325.1,90.7 325.7,91.7 326.8,99.5 C327.9,107.3 329.5,132.9 331.0,135.4 C332.5,137.9 334.4,122.5 335.9,114.4 C337.3,106.4 338.7,88.5 339.7,87.1 C340.7,85.6 341.2,102.0 342.1,105.7 C343.0,109.4 344.1,107.7 344.9,109.0 C345.7,110.3 346.4,110.1 347.0,113.4 C347.6,116.7 348.2,128.2 348.8,128.6 C349.4,129.0 350.0,123.1 350.6,115.9 C351.2,108.7 351.9,90.4 352.6,85.6 C353.4,80.8 354.3,84.3 355.1,86.8 C355.9,89.3 356.9,96.8 357.6,100.8 C358.3,104.8 358.9,108.2 359.4,110.9 C359.9,113.6 360.2,117.0 360.7,117.2 C361.2,117.4 361.6,110.8 362.2,112.1 C362.8,113.4 363.3,121.4 364.0,124.8 C364.7,128.2 365.7,128.7 366.5,132.3 C367.3,135.9 368.1,140.9 369.0,146.3 C369.9,151.8 370.9,163.9 371.6,165.0 C372.3,166.1 372.4,158.7 373.0,153.0 C373.6,147.3 374.5,138.1 375.3,131.1 C376.1,124.1 377.1,114.8 377.9,110.9 C378.6,107.0 379.5,108.1 379.8,107.5" fill="none" stroke="#222" stroke-width="1.25" stroke-linejoin="round"/><path d="M379.8,107.5 C380.3,106.3 381.8,102.9 382.6,100.6 C383.4,98.3 383.9,92.4 384.8,93.7 C385.7,95.0 387.0,101.6 388.1,108.5 C389.2,115.4 390.3,127.7 391.2,135.0 C392.2,142.3 393.2,148.9 393.7,152.3 C394.2,155.7 394.1,155.7 394.4,155.2 C394.7,154.7 395.1,150.9 395.6,149.4 C396.1,147.9 396.6,146.0 397.3,146.1 C398.0,146.2 399.1,149.5 399.9,149.9 C400.7,150.3 401.5,148.3 402.3,148.5 C403.1,148.7 403.9,149.2 404.7,150.9 C405.5,152.7 406.1,156.5 407.1,159.0 C408.1,161.5 409.5,164.0 410.5,165.8 C411.5,167.6 412.1,168.4 412.9,170.0 C413.6,171.6 414.0,173.9 415.0,175.6 C416.0,177.3 417.6,177.8 419.0,180.4 C420.4,183.0 421.7,187.5 423.1,190.9 C424.5,194.3 426.9,199.3 427.6,201.0" fill="none" stroke="#ff1a1a" stroke-width="1.7" stroke-linejoin="round"/><line x1="61" y1="56.6" x2="84.8" y2="56.6" stroke="#404040" stroke-width="1.6"/><line x1="61" y1="73.5" x2="84.8" y2="73.5" stroke="#ff3535" stroke-width="1.5"/><line x1="61" y1="90.4" x2="84.8" y2="90.4" stroke="#f5bcbc" stroke-width="1.3"/><line x1="61" y1="107.3" x2="84.8" y2="107.3" stroke="#66b8b8" stroke-width="1.5"/><rect x="61.3" y="119.9" width="23.4" height="8.6" fill="#e8f3fc" stroke="#d3e8f7" stroke-width="0.8"/><text x="94" y="61.0" font-size="12" fill="#7a7a7a" stroke="#7a7a7a" stroke-width="0.15" textLength="106" lengthAdjust="spacingAndGlyphs">2024-2025 to date</text><text x="94" y="77.8" font-size="12" fill="#7a7a7a" stroke="#7a7a7a" stroke-width="0.15" textLength="96" lengthAdjust="spacingAndGlyphs">average forecast</text><text x="94" y="94.5" font-size="12" fill="#7a7a7a" stroke="#7a7a7a" stroke-width="0.15" textLength="111.5" lengthAdjust="spacingAndGlyphs">individual forecasts</text><text x="94" y="111.4" font-size="12" fill="#7a7a7a" stroke="#7a7a7a" stroke-width="0.15" textLength="112.3" lengthAdjust="spacingAndGlyphs">1991-2020 average</text><text x="94" y="128.2" font-size="12" fill="#7a7a7a" stroke="#7a7a7a" stroke-width="0.15" textLength="164" lengthAdjust="spacingAndGlyphs">observed range of variability</text><text x="47.2" y="46.2" font-size="12.7" fill="#7a7a7a" stroke="#7a7a7a" stroke-width="0.15" text-anchor="end">80</text><text x="47.2" y="92.1" font-size="12.7" fill="#7a7a7a" stroke="#7a7a7a" stroke-width="0.15" text-anchor="end">60</text><text x="47.2" y="138.1" font-size="12.7" fill="#7a7a7a" stroke="#7a7a7a" stroke-width="0.15" text-anchor="end">40</text><text x="47.2" y="184.0" font-size="12.7" fill="#7a7a7a" stroke="#7a7a7a" stroke-width="0.15" text-anchor="end">20</text><text x="47.2" y="230.0" font-size="12.7" fill="#7a7a7a" stroke="#7a7a7a" stroke-width="0.15" text-anchor="end">0</text><text x="47.2" y="275.9" font-size="12.7" fill="#7a7a7a" stroke="#7a7a7a" stroke-width="0.15" text-anchor="end">-20</text><text x="47.2" y="321.9" font-size="12.7" fill="#7a7a7a" stroke="#7a7a7a" stroke-width="0.15" text-anchor="end">-40</text><text x="50.9" y="330.2" font-size="12.4" fill="#7a7a7a" stroke="#7a7a7a" stroke-width="0.15" text-anchor="middle">Jul</text><text x="94.5" y="330.2" font-size="12.4" fill="#7a7a7a" stroke="#7a7a7a" stroke-width="0.15" text-anchor="middle">Aug</text><text x="138.1" y="330.2" font-size="12.4" fill="#7a7a7a" stroke="#7a7a7a" stroke-width="0.15" text-anchor="middle">Sep</text><text x="180.3" y="330.2" font-size="12.4" fill="#7a7a7a" stroke="#7a7a7a" stroke-width="0.15" text-anchor="middle">Oct</text><text x="223.9" y="330.2" font-size="12.4" fill="#7a7a7a" stroke="#7a7a7a" stroke-width="0.15" text-anchor="middle">Nov</text><text x="266.2" y="330.2" font-size="12.4" fill="#7a7a7a" stroke="#7a7a7a" stroke-width="0.15" text-anchor="middle">Dec</text><text x="309.8" y="330.2" font-size="12.4" fill="#7a7a7a" stroke="#7a7a7a" stroke-width="0.15" text-anchor="middle">Jan</text><text x="353.4" y="330.2" font-size="12.4" fill="#7a7a7a" stroke="#7a7a7a" stroke-width="0.15" text-anchor="middle">Feb</text><text x="392.8" y="330.2" font-size="12.4" fill="#7a7a7a" stroke="#7a7a7a" stroke-width="0.15" text-anchor="middle">Mar</text><text x="436.4" y="330.2" font-size="12.4" fill="#7a7a7a" stroke="#7a7a7a" stroke-width="0.15" text-anchor="middle">Apr</text><text x="478.6" y="330.2" font-size="12.4" fill="#7a7a7a" stroke="#7a7a7a" stroke-width="0.15" text-anchor="middle">May</text><text x="522.2" y="330.2" font-size="12.4" fill="#7a7a7a" stroke="#7a7a7a" stroke-width="0.15" text-anchor="middle">Jun</text><text x="564.4" y="330.2" font-size="12.4" fill="#7a7a7a" stroke="#7a7a7a" stroke-width="0.15" text-anchor="middle">Jul</text><text x="198" y="343" font-size="12.4" fill="#7a7a7a" stroke="#7a7a7a" stroke-width="0.15" text-anchor="middle">2024</text><text x="413.4" y="343.3" font-size="12.4" fill="#7a7a7a" stroke="#7a7a7a" stroke-width="0.15" text-anchor="middle">2025</text><text x="312.3" y="350.8" font-size="13.6" font-weight="bold" fill="#777" textLength="32.5" lengthAdjust="spacingAndGlyphs">date</text><text transform="translate(11.8,243.60) rotate(-90)" font-size="13.6" font-weight="bold" fill="#777" textLength="35.04" lengthAdjust="spacingAndGlyphs">wind</text><text transform="translate(11.8,206.00) rotate(-90)" font-size="13.6" font-weight="bold" fill="#777" textLength="50.61" lengthAdjust="spacingAndGlyphs">speeds</text><text transform="translate(11.8,152.80) rotate(-90)" font-size="13.6" font-weight="bold" fill="#777" textLength="36.62" lengthAdjust="spacingAndGlyphs">(m/s)</text><text transform="translate(28.5,216.10) rotate(-90)" font-size="12" fill="#858585" stroke="#858585" stroke-width="0.15" textLength="47.40" lengthAdjust="spacingAndGlyphs">westerly</text><text transform="translate(28.5,227.80) rotate(-90)" font-size="12" fill="#858585" stroke="#858585" stroke-width="0.15">|</text><text transform="translate(28.5,281.30) rotate(-90)" font-size="12" fill="#858585" stroke="#858585" stroke-width="0.15" textLength="45.81" lengthAdjust="spacingAndGlyphs">easterly</text><text x="22.50" y="19" font-size="17.7" font-weight="bold" fill="#a3a3a3" textLength="50.01" lengthAdjust="spacingAndGlyphs">Polar</text><text x="78.50" y="19" font-size="17.7" font-weight="bold" fill="#a3a3a3" textLength="66.00" lengthAdjust="spacingAndGlyphs">Vortex</text><text x="151.50" y="19" font-size="17.7" font-weight="bold" fill="#a3a3a3" textLength="59.49" lengthAdjust="spacingAndGlyphs">Winds</text><text x="218.00" y="19" font-size="17.7" font-weight="bold" fill="#a3a3a3" textLength="19.49" lengthAdjust="spacingAndGlyphs">at</text><text x="243.00" y="19" font-size="17.7" font-weight="bold" fill="#a3a3a3" textLength="112.00" lengthAdjust="spacingAndGlyphs">60N/10-hPa</text><text x="363.00" y="19" font-size="17.7" font-weight="bold" fill="#a3a3a3" textLength="47.54" lengthAdjust="spacingAndGlyphs">(~19</text><text x="416.00" y="19" font-size="17.7" font-weight="bold" fill="#a3a3a3" textLength="81.03" lengthAdjust="spacingAndGlyphs">miles/30</text><text x="506.00" y="19" font-size="17.7" font-weight="bold" fill="#a3a3a3" textLength="112.02" lengthAdjust="spacingAndGlyphs">kilometers)</text></svg>
</body></html>
